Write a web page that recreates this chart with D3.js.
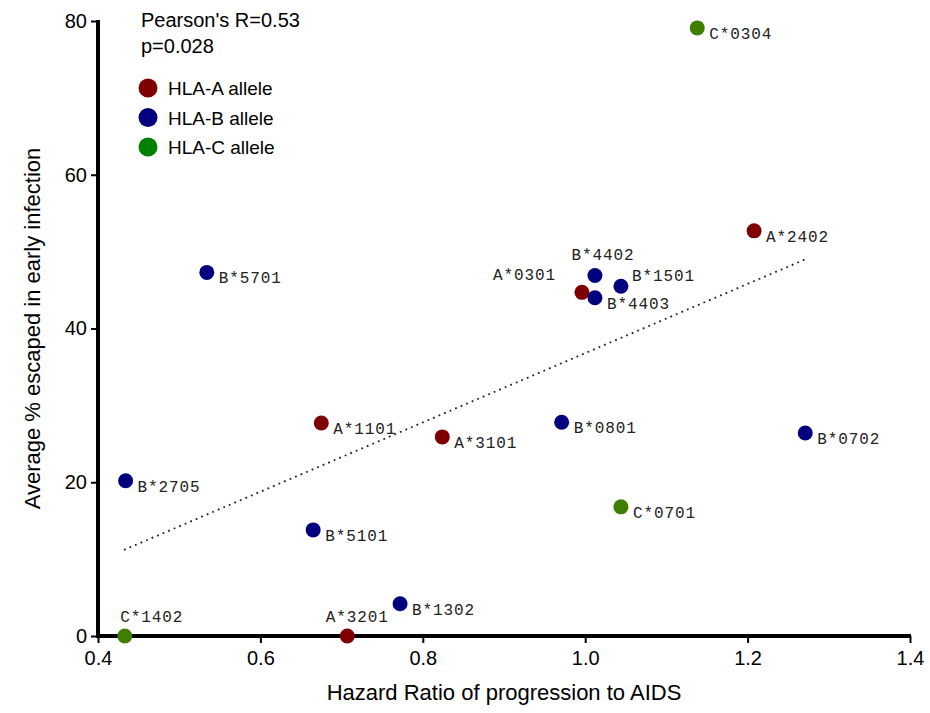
<!DOCTYPE html>
<html>
<head>
<meta charset="utf-8">
<script src="https://cdn.jsdelivr.net/npm/d3@7"></script>
<style>
  body { margin: 0; background: #fff; }
  svg text { font-family: "Liberation Sans", Arial, sans-serif; }
  .lbl { font-family: "Liberation Mono", "Courier New", monospace; font-size: 16px; letter-spacing: 0.9px; fill: #222; }
</style>
</head>
<body>
<div id="chart"></div>
<script>
// allele data
const alleles = ["C*0304", "A*2402", "B*5701", "B*4402", "B*1501", "A*0301", "B*4403", "A*1101",
                 "A*3101", "B*0801", "B*0702", "B*2705", "C*0701", "B*5101", "B*1302", "A*3201", "C*1402"];
const hazardRatio = [1.138, 1.208, 0.534, 1.012, 1.044, 0.996, 1.012, 0.675,
                     0.824, 0.971, 1.271, 0.434, 1.044, 0.665, 0.772, 0.707, 0.433];
const pctEscaped = [79.1, 52.7, 47.3, 46.9, 45.5, 44.7, 44.0, 27.7,
                    25.9, 27.8, 26.4, 20.2, 16.8, 13.8, 4.2, 0, 0];

// dotted trend line end points
const trendX = [0.432, 1.271];
const trendY = [11.2, 49.0];

const xTicks = [0.4, 0.6, 0.8, 1.0, 1.2, 1.4];
const yTicks = [0, 20, 40, 60, 80];

const legendNames = ["HLA-A allele", "HLA-B allele", "HLA-C allele"];

// colours
const dotColor = {A: "#7f0000", B: "#00007f", C: "#3f7f00"};
const legendColor = ["#7f0000", "#00007f", "#007f00"];

// label placement tweaks (dx, dy, anchor); default is right-below
const labelPos = {
    "B*4402": [8, -15, "middle"],
    "A*0301": [-26, -12, "end"],
    "B*1501": [11, -5, "start"],
    "A*3201": [10, -14, "middle"],
    "C*1402": [27, -14, "middle"]
};

const width = 930, height = 713;
const margin = {top: 21, right: 20, bottom: 77, left: 98};

const svg = d3.select("#chart").append("svg")
    .attr("width", width)
    .attr("height", height);

const x = d3.scaleLinear().domain([0.4, 1.4]).range([margin.left, 910]);
const y = d3.scaleLinear().domain([0, 80]).range([636, margin.top]);

// axes
const xAxis = svg.append("g")
    .attr("transform", `translate(0,${y(0)})`)
    .call(d3.axisBottom(x).tickValues(xTicks).tickFormat(d3.format(".1f")).tickSize(7).tickSizeOuter(0));
const yAxis = svg.append("g")
    .attr("transform", `translate(${x(0.4)},0)`)
    .call(d3.axisLeft(y).tickValues(yTicks).tickSize(7).tickSizeOuter(0));

[xAxis, yAxis].forEach(a => {
    a.select(".domain").remove();
    a.selectAll(".tick line").attr("stroke", "#000").attr("stroke-width", 2);
    a.selectAll(".tick text").attr("fill", "#000").style("font-size", "20px")
        .style("font-family", "'Liberation Sans', Arial, sans-serif");
});
xAxis.selectAll(".tick text").attr("dy", "0.95em");
yAxis.selectAll(".tick text").attr("x", -11);

// heavy axis lines
svg.append("line")
    .attr("x1", x(0.4) - 2).attr("x2", x(1.4) + 1)
    .attr("y1", y(0)).attr("y2", y(0))
    .attr("stroke", "#000").attr("stroke-width", 4);
svg.append("line")
    .attr("x1", x(0.4)).attr("x2", x(0.4))
    .attr("y1", y(0) + 2).attr("y2", y(80) - 1)
    .attr("stroke", "#000").attr("stroke-width", 4);

// axis titles
svg.append("text")
    .attr("x", (x(0.4) + x(1.4)) / 2)
    .attr("y", 700)
    .attr("text-anchor", "middle")
    .style("font-size", "22px")
    .text("Hazard Ratio of progression to AIDS");

svg.append("text")
    .attr("transform", `translate(40,${(y(0) + y(80)) / 2}) rotate(-90)`)
    .attr("text-anchor", "middle")
    .style("font-size", "22px")
    .text("Average % escaped in early infection");

// trend line
svg.append("line")
    .attr("x1", x(trendX[0])).attr("y1", y(trendY[0]))
    .attr("x2", x(trendX[1])).attr("y2", y(trendY[1]))
    .attr("stroke", "#222")
    .attr("stroke-width", 1.8)
    .attr("stroke-dasharray", "1.8,4.2");

// points
const pts = alleles.map((a, i) => ({name: a, hr: hazardRatio[i], pct: pctEscaped[i]}));

svg.append("g").selectAll("circle")
    .data(pts)
    .enter().append("circle")
    .attr("cx", d => x(d.hr))
    .attr("cy", d => y(d.pct))
    .attr("r", 7.5)
    .attr("fill", d => dotColor[d.name[0]]);

svg.append("g").selectAll("text")
    .data(pts)
    .enter().append("text")
    .attr("class", "lbl")
    .attr("x", d => x(d.hr) + (labelPos[d.name] ? labelPos[d.name][0] : 12))
    .attr("y", d => y(d.pct) + (labelPos[d.name] ? labelPos[d.name][1] : 11))
    .attr("text-anchor", d => labelPos[d.name] ? labelPos[d.name][2] : "start")
    .text(d => d.name);

// stats text
svg.append("text").attr("x", 141).attr("y", 27).style("font-size", "20px").text("Pearson's R=0.53");
svg.append("text").attr("x", 141).attr("y", 53).style("font-size", "20px").text("p=0.028");

// legend
const leg = svg.append("g");
legendNames.forEach((n, i) => {
    leg.append("circle").attr("cx", 148).attr("cy", 88 + i * 29.5).attr("r", 9.5).attr("fill", legendColor[i]);
    leg.append("text").attr("x", 168).attr("y", 88 + i * 29.5 + 7).style("font-size", "19px").text(n);
});
</script>
</body>
</html>
